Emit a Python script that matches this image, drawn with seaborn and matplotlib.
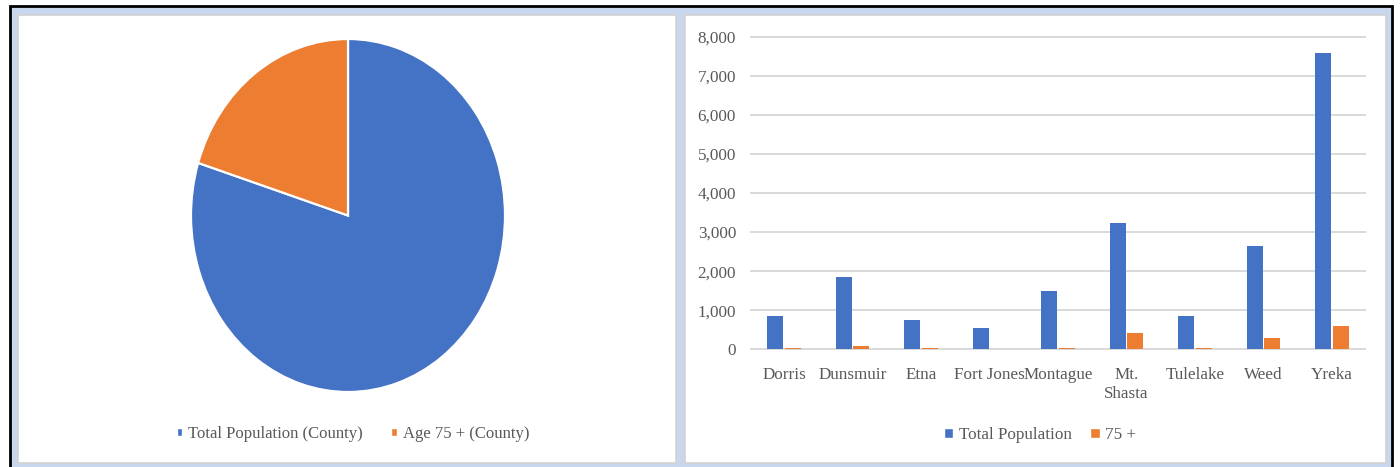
import matplotlib
matplotlib.use("Agg")
import matplotlib.pyplot as plt
from matplotlib.patches import Rectangle, Patch
from matplotlib.ticker import FuncFormatter
import pandas as pd
import seaborn as sns

# County totals shown in the pie
pie_labels = ["Total Population (County)", "Age 75 + (County)"]
pie_values = [43500, 11000]

# City totals shown in the bar chart
cities = ["Dorris", "Dunsmuir", "Etna", "Fort Jones", "Montague",
          "Mt.\nShasta", "Tulelake", "Weed", "Yreka"]
total_population = [840, 1860, 740, 550, 1490, 3240, 840, 2650, 7590]
age_75_plus = [40, 90, 40, 0, 40, 410, 40, 280, 585]
series_names = ["Total Population", "75 +"]
y_ticks = [0, 1000, 2000, 3000, 4000, 5000, 6000, 7000, 8000]

BLUE = "#4472C4"
ORANGE = "#ED7D31"
TEXT = "#595959"
GRID = "#D9D9D9"
FRAME_BG = "#C8D7EE"
PANEL_EDGE = "#D2D2D2"

W, H = 1400, 467

sns.set_theme(style="white")
plt.rcParams["font.family"] = "serif"
plt.rcParams["font.serif"] = ["Liberation Serif", "Times New Roman", "DejaVu Serif"]

fig = plt.figure(figsize=(W / 100, H / 100), dpi=100)
fig.patch.set_facecolor("white")


def box(x0, y0, x1, y1):
    """Pixel box (origin top-left) -> figure-fraction [left, bottom, width, height]."""
    return [x0 / W, 1 - y1 / H, (x1 - x0) / W, (y1 - y0) / H]


def add_rect(x0, y0, x1, y1, fc, ec, lw, z):
    l, b, w, h = box(x0, y0, x1, y1)
    fig.add_artist(Rectangle((l, b), w, h, transform=fig.transFigure,
                             facecolor=fc, edgecolor=ec, linewidth=lw, zorder=z))


# Page frame and the two chart panels
add_rect(9.7, 6.5, 1392.0, 490, FRAME_BG, "black", 2.0, -10)
add_rect(18.0, 15.0, 676.0, 462.5, "white", PANEL_EDGE, 1.2, -9)
add_rect(685.0, 15.0, 1386.2, 462.5, "white", PANEL_EDGE, 1.2, -9)

# ---- Pie: county population vs. age 75+ ----
ax_pie = fig.add_axes(box(191, 39, 505, 392))
ax_pie.pie(pie_values, colors=[BLUE, ORANGE], startangle=90, counterclock=False,
           wedgeprops=dict(edgecolor="white", linewidth=1.6))
ax_pie.set_aspect("auto")
ax_pie.set_xlim(-1, 1)
ax_pie.set_ylim(-1, 1)
ax_pie.axis("off")

fig.legend(handles=[Patch(facecolor=BLUE), Patch(facecolor=ORANGE)],
           labels=pie_labels, loc="center", bbox_to_anchor=(353 / W, 1 - 434 / H),
           ncol=2, frameon=False, fontsize=12, labelcolor=TEXT,
           handlelength=0.35, handleheight=0.35, handletextpad=0.35,
           columnspacing=1.7)

# ---- Bars: city totals vs. age 75+ ----
df = pd.DataFrame({
    "city": cities * 2,
    "series": [series_names[0]] * len(cities) + [series_names[1]] * len(cities),
    "value": total_population + age_75_plus,
})

zero_px, top_px = 349.3, 36.7
ppu = (zero_px - top_px) / 8000.0
ax_top, ax_bot = 30.0, 355.0
ax_bar = fig.add_axes(box(750, ax_top, 1366, ax_bot))
ax_bar.patch.set_alpha(0)
sns.barplot(data=df, x="city", y="value", hue="series", order=cities,
            hue_order=series_names, palette=[BLUE, ORANGE], saturation=1,
            width=0.512, gap=0.086, legend=False, ax=ax_bar,
            linewidth=0, edgecolor="none")

ax_bar.set_xlim(-0.5, len(cities) - 0.5)
ax_bar.set_ylim(-(ax_bot - zero_px) / ppu, 8000 + (top_px - ax_top) / ppu)
ax_bar.set_yticks(y_ticks)
ax_bar.yaxis.set_major_formatter(FuncFormatter(lambda v, _: f"{int(v):,}"))
ax_bar.yaxis.grid(True, color=GRID, linewidth=1.4)
ax_bar.xaxis.grid(False)
ax_bar.set_axisbelow(True)
for s in ax_bar.spines.values():
    s.set_visible(False)
ax_bar.set_xlabel("")
ax_bar.set_ylabel("")
ax_bar.tick_params(axis="y", length=0, pad=10, labelsize=12.3, labelcolor=TEXT)
ax_bar.tick_params(axis="x", length=0, pad=8.5, labelsize=12.3, labelcolor=TEXT)
for lbl in ax_bar.get_xticklabels():
    lbl.set_linespacing(1.3)

fig.legend(handles=[Patch(facecolor=BLUE), Patch(facecolor=ORANGE)],
           labels=series_names, loc="center", bbox_to_anchor=(1040 / W, 1 - 435 / H),
           ncol=2, frameon=False, fontsize=12.3, labelcolor=TEXT,
           handlelength=0.55, handleheight=0.55, handletextpad=0.3,
           columnspacing=1.1)

fig.savefig("out.png", dpi=100, facecolor="white")
